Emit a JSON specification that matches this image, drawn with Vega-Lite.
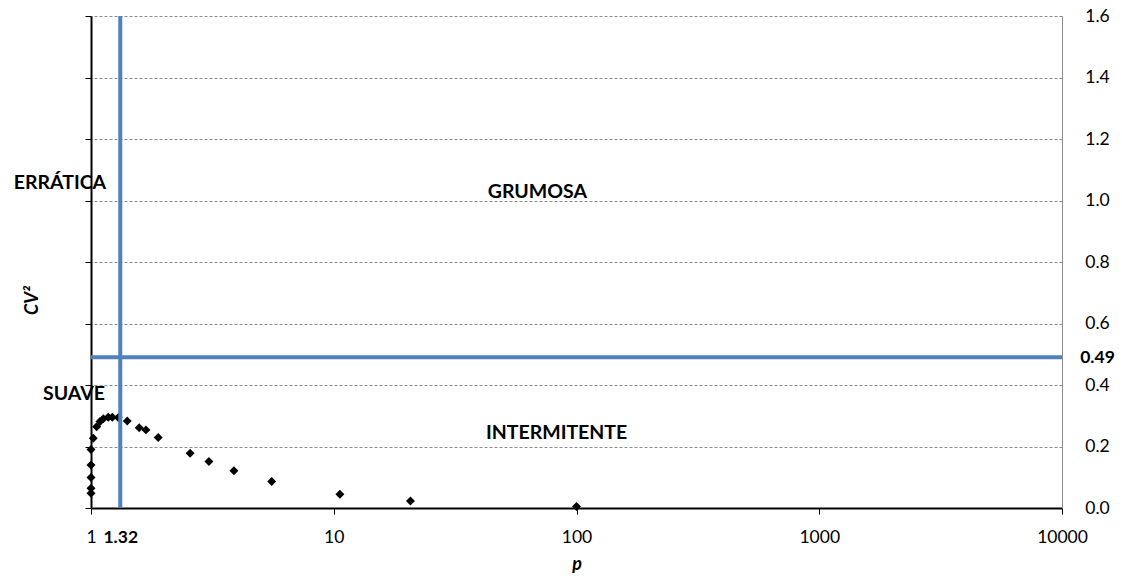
{
  "$schema": "https://vega.github.io/schema/vega-lite/v6.json",
  "width": 971,
  "height": 492,
  "autosize": {"type": "none"},
  "padding": {"left": 91, "top": 16, "right": 60, "bottom": 77},
  "background": "white",
  "config": {
    "view": {"stroke": null},
    "font": "Lato"
  },
  "datasets": {
    "series": [
      {"p": 1, "cv2": 0.048},
      {"p": 1, "cv2": 0.064},
      {"p": 1, "cv2": 0.099},
      {"p": 1, "cv2": 0.14},
      {"p": 1, "cv2": 0.19},
      {"p": 1.022, "cv2": 0.227},
      {"p": 1.055, "cv2": 0.264},
      {"p": 1.089, "cv2": 0.281},
      {"p": 1.124, "cv2": 0.29},
      {"p": 1.178, "cv2": 0.295},
      {"p": 1.224, "cv2": 0.295},
      {"p": 1.295, "cv2": 0.294},
      {"p": 1.41, "cv2": 0.283},
      {"p": 1.58, "cv2": 0.261},
      {"p": 1.684, "cv2": 0.254},
      {"p": 1.892, "cv2": 0.229},
      {"p": 2.56, "cv2": 0.178},
      {"p": 3.06, "cv2": 0.151},
      {"p": 3.88, "cv2": 0.121},
      {"p": 5.55, "cv2": 0.086},
      {"p": 10.6, "cv2": 0.045},
      {"p": 20.7, "cv2": 0.023},
      {"p": 100, "cv2": 0.005}
    ],
    "zones": [
      {"label": "ERRÁTICA", "p": 0.745, "cv2": 1.057},
      {"label": "GRUMOSA", "p": 69, "cv2": 1.028},
      {"label": "SUAVE", "p": 0.851, "cv2": 0.371},
      {"label": "INTERMITENTE", "p": 82.8, "cv2": 0.245}
    ],
    "thresholds": [{"p": 1.32, "cv2": 0.49}]
  },
  "layer": [
    {
      "data": {"name": "thresholds"},
      "mark": {"type": "rule", "color": "#4F81BD", "strokeWidth": 4},
      "encoding": {
        "y": {
          "field": "cv2", "type": "quantitative",
          "scale": {"domain": [0, 1.6], "nice": false, "zero": false},
          "axis": {
            "orient": "right",
            "title": null,
            "values": [0, 0.2, 0.4, 0.49, 0.6, 0.8, 1.0, 1.2, 1.4, 1.6],
            "labelExpr": "datum.value == 0.49 ? '0.49' : format(datum.value, '.1f')",
            "labelFontWeight": {"condition": {"test": "datum.value == 0.49", "value": "bold"}, "value": "normal"},
            "labelFontSize": 17.5,
            "labelColor": "#000000",
            "labelAlign": "center",
            "labelBaseline": "middle",
            "labelPadding": 35,
            "labelOverlap": false,
            "labelFlush": false,
            "ticks": false,
            "tickSize": 0,
            "grid": true,
            "gridColor": "#8c8c8c",
            "gridDash": [3, 2],
            "gridWidth": 1,
            "gridOpacity": {"condition": {"test": "datum.value == 0.49 || datum.value == 0", "value": 0}, "value": 1},
            "domainColor": "#8c8c8c",
            "domainWidth": 1
          }
        }
      }
    },
    {
      "data": {"name": "series"},
      "mark": {"type": "point", "shape": "diamond", "filled": true, "color": "#000000", "opacity": 1, "size": 80},
      "encoding": {
        "x": {
          "field": "p", "type": "quantitative",
          "scale": {"type": "log", "domain": [1, 10000], "nice": false},
          "axis": {
            "title": "p",
            "values": [1, 1.32, 10, 100, 1000, 10000],
            "format": "~g",
            "labelFontSize": 17.5,
            "labelColor": "#000000",
            "labelFontWeight": {"condition": {"test": "datum.value == 1.32", "value": "bold"}, "value": "normal"},
            "tickOpacity": {"condition": {"test": "datum.value == 1.32", "value": 0}, "value": 1},
            "labelOverlap": false,
            "labelFlush": false,
            "labelPadding": 14,
            "domainColor": "#000000",
            "domainWidth": 2,
            "tickColor": "#000000",
            "tickSize": 6,
            "tickWidth": 1,
            "grid": false,
            "titleFontSize": 18,
            "titleFontStyle": "italic",
            "titleFontWeight": "bold",
            "titleColor": "#000000",
            "titlePadding": 10
          }
        },
        "y": {
          "field": "cv2", "type": "quantitative",
          "scale": {"domain": [0, 1.6], "nice": false, "zero": false},
          "axis": {
            "orient": "left",
            "title": "CV²",
            "values": [0, 0.2, 0.4, 0.6, 0.8, 1.0, 1.2, 1.4, 1.6],
            "labels": false,
            "grid": false,
            "domainColor": "#000000",
            "domainWidth": 2,
            "tickColor": "#000000",
            "tickSize": 6,
            "titleFontSize": 18,
            "titleFontStyle": "italic",
            "titleFontWeight": "bold",
            "titleColor": "#000000",
            "titleAngle": -90,
            "titleAlign": "center",
            "titleBaseline": "middle",
            "titleX": -59,
            "titleY": 284
          }
        }
      }
    },
    {
      "data": {"name": "thresholds"},
      "mark": {"type": "rule", "color": "#4F81BD", "strokeWidth": 4},
      "encoding": {
        "x": {
          "field": "p", "type": "quantitative",
          "scale": {"type": "log", "domain": [1, 10000], "nice": false}
        }
      }
    },
    {
      "data": {"name": "zones"},
      "mark": {"type": "text", "font": "Lato", "fontWeight": "bold", "fontSize": 19.5, "color": "#000000", "align": "center", "baseline": "middle"},
      "encoding": {
        "x": {
          "field": "p", "type": "quantitative",
          "scale": {"type": "log", "domain": [1, 10000], "nice": false}
        },
        "y": {
          "field": "cv2", "type": "quantitative",
          "scale": {"domain": [0, 1.6], "nice": false, "zero": false},
          "axis": null
        },
        "text": {"field": "label", "type": "nominal"}
      }
    }
  ],
  "resolve": {"axis": {"y": "independent"}}
}
